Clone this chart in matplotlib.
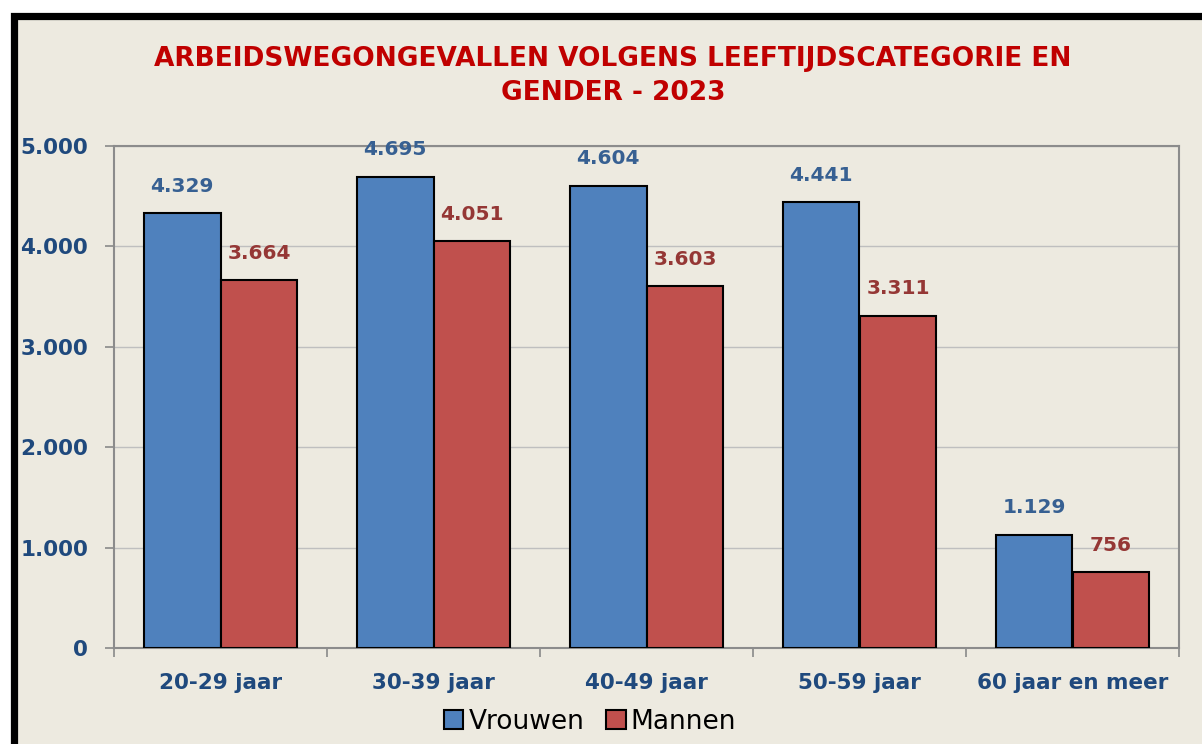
import matplotlib
matplotlib.use("Agg")
import matplotlib.pyplot as plt
from matplotlib.patches import Rectangle, Patch
import numpy as np

categories = ["20-29 jaar", "30-39 jaar", "40-49 jaar", "50-59 jaar", "60 jaar en meer"]
vrouwen = [4329, 4695, 4604, 4441, 1129]
mannen = [3664, 4051, 3603, 3311, 756]
yticks = [0, 1000, 2000, 3000, 4000, 5000]


def nl(v):
    return f"{v:,}".replace(",", ".")


bg = "#EDEAE0"
blue = "#4F81BD"
red = "#C0504D"
tickcol = "#1F497D"

fig = plt.figure(figsize=(12.02, 7.44), dpi=100, facecolor="white")
W, H = 1202, 744

# black frame, cut off on the right and bottom
fig.patches.append(Rectangle((13.5 / W, -0.2), 1.3, 1 - 16 / H + 0.2, transform=fig.transFigure,
                             facecolor=bg, edgecolor="black", linewidth=5.2, zorder=0))

ax = fig.add_axes([114 / W, 1 - 648 / H, (1179 - 114) / W, (648 - 146) / H])
ax.set_zorder(2)
ax.set_facecolor(bg)

x = np.arange(len(categories))
w = 0.3615
b1 = ax.bar(x - w / 2, vrouwen, w, color=blue, edgecolor="black", linewidth=1.5, zorder=3)
b2 = ax.bar(x + w / 2, mannen, w, color=red, edgecolor="black", linewidth=1.5, zorder=3)

for bars, vals, col in [(b1, vrouwen, "#376092"), (b2, mannen, "#953735")]:
    for r, v in zip(bars, vals):
        ax.annotate(nl(v), (r.get_x() + r.get_width() / 2, v), xytext=(0, 19.5),
                    textcoords="offset points", ha="center", va="center",
                    fontsize=14.5, fontweight="bold", color=col)

ax.set_xlim(-0.5, len(categories) - 0.5)
ax.set_ylim(0, 5000)
ax.set_yticks(yticks)
ax.set_yticklabels([nl(v) for v in yticks], fontsize=15.5, fontweight="bold", color=tickcol)
ax.yaxis.grid(True, color="#BFBFBF", linewidth=1, zorder=0)
ax.set_axisbelow(True)
ax.set_xticks(x)
ax.set_xticklabels(categories, fontsize=15.5, fontweight="bold", color=tickcol)
ax.tick_params(axis="x", length=0, pad=18)
ax.set_xticks(np.arange(len(categories) + 1) - 0.5, minor=True)
ax.tick_params(axis="x", which="minor", length=6.5, color="#898989", width=1.2)
ax.tick_params(axis="y", length=6.5, color="#898989", width=1.2, pad=12)
for s in ax.spines.values():
    s.set_color("#8C8C8C")
    s.set_linewidth(1.5)

fig.text(613 / W, 1 - 76 / H, "ARBEIDSWEGONGEVALLEN VOLGENS LEEFTIJDSCATEGORIE EN\nGENDER - 2023",
         ha="center", va="center", fontsize=19, fontweight="bold", color="#C00000",
         family=["DejaVu Sans Condensed", "DejaVu Sans"], linespacing=1.45)

handles = [Patch(facecolor=blue, edgecolor="black", linewidth=1.5),
           Patch(facecolor=red, edgecolor="black", linewidth=1.5)]
fig.legend(handles, ["Vrouwen", "Mannen"], loc="center", bbox_to_anchor=(590 / W, 1 - 722 / H),
           ncol=2, frameon=False, fontsize=19, handlelength=0.75, handleheight=0.75,
           handletextpad=0.2, columnspacing=0.8)

fig.savefig("out.png", dpi=100, facecolor="white")
